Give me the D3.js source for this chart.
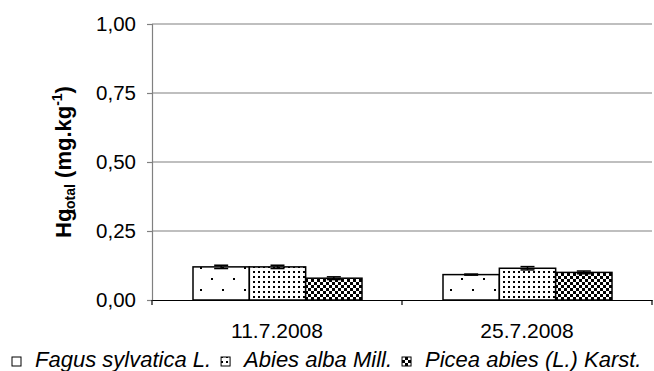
<!DOCTYPE html>
<html>
<head>
<meta charset="utf-8">
<script src="https://cdn.jsdelivr.net/npm/d3@7"></script>
<style>
  body { margin: 0; background: #fff; }
  text { font-family: "Liberation Sans", Arial, sans-serif; }
</style>
</head>
<body>
<div id="chart"></div>
<script>
// data
var dates = ["11.7.2008", "25.7.2008"];
var species = ["Fagus sylvatica L.", "Abies alba Mill.", "Picea abies (L.) Karst."];
var fagus = [0.12, 0.092];
var abies = [0.12, 0.115];
var picea = [0.079, 0.10];
var fagusErr = [0.006, 0.002];
var abiesErr = [0.006, 0.006];
var piceaErr = [0.005, 0.005];
var yTicks = [0, 0.25, 0.5, 0.75, 1];

var series = [fagus, abies, picea];
var errs = [fagusErr, abiesErr, piceaErr];

var width = 654, height = 371;
var plot = { left: 152, right: 652, top: 24, bottom: 300 };

var svg = d3.select("#chart").append("svg")
    .attr("width", width)
    .attr("height", height);

var defs = svg.append("defs");

// sparse dots
var p1 = defs.append("pattern").attr("id", "pat0").attr("patternUnits", "userSpaceOnUse")
    .attr("width", 22).attr("height", 22);
p1.append("rect").attr("width", 22).attr("height", 22).attr("fill", "#fff");
p1.append("rect").attr("x", 4).attr("y", 3).attr("width", 2).attr("height", 2).attr("fill", "#000");
p1.append("rect").attr("x", 15).attr("y", 14).attr("width", 2).attr("height", 2).attr("fill", "#000");

// dense dots
var p2 = defs.append("pattern").attr("id", "pat1").attr("patternUnits", "userSpaceOnUse")
    .attr("width", 5).attr("height", 5);
p2.append("rect").attr("width", 5).attr("height", 5).attr("fill", "#fff");
p2.append("rect").attr("x", 1).attr("y", 1).attr("width", 2).attr("height", 2).attr("fill", "#000");

// checkerboard
var p3 = defs.append("pattern").attr("id", "pat2").attr("patternUnits", "userSpaceOnUse")
    .attr("width", 6).attr("height", 6);
p3.append("rect").attr("width", 6).attr("height", 6).attr("fill", "#fff");
p3.append("rect").attr("width", 3).attr("height", 3).attr("fill", "#000");
p3.append("rect").attr("x", 3).attr("y", 3).attr("width", 3).attr("height", 3).attr("fill", "#000");

var x0 = d3.scaleBand().domain(dates).range([plot.left, plot.right]);
// three bars take ~68% of each category band
var x1 = d3.scaleBand().domain(d3.range(3)).range([x0.bandwidth() * 0.164, x0.bandwidth() * 0.84]);
var y = d3.scaleLinear().domain([0, 1]).range([plot.bottom, plot.top]);

// gridlines
svg.append("g").selectAll("line")
    .data(yTicks.filter(function (d) { return d > 0; }))
    .enter().append("line")
    .attr("x1", plot.left).attr("x2", plot.right)
    .attr("y1", function (d) { return y(d); })
    .attr("y2", function (d) { return y(d); })
    .attr("stroke", "#808080").attr("stroke-width", 1.2);

// y axis
var yAxis = svg.append("g")
    .attr("transform", "translate(" + plot.left + ",0)")
    .call(d3.axisLeft(y).tickValues(yTicks).tickSize(5).tickPadding(11)
        .tickFormat(function (d) { return d3.format(".2f")(d).replace(".", ","); }));
yAxis.select(".domain").attr("stroke", "#808080").attr("stroke-width", 1.2);
yAxis.selectAll(".tick line").attr("stroke", "#808080").attr("stroke-width", 1.2);
yAxis.selectAll("text").attr("font-size", 20.5).attr("fill", "#000")
    .attr("font-family", "Liberation Sans, Arial, sans-serif");

// bars
var groups = svg.append("g").selectAll("g")
    .data(dates)
    .enter().append("g")
    .attr("transform", function (d) { return "translate(" + x0(d) + ",0)"; });

function rows(d, i) {
    return series.map(function (s, k) { return { k: k, v: s[i], e: errs[k][i] }; });
}

groups.selectAll("rect")
    .data(rows)
    .enter().append("rect")
    .attr("x", function (d) { return x1(d.k); })
    .attr("y", function (d) { return y(d.v); })
    .attr("width", x1.bandwidth())
    .attr("height", function (d) { return y(0) - y(d.v); })
    .attr("fill", function (d) { return "url(#pat" + d.k + ")"; })
    .attr("stroke", "#000").attr("stroke-width", 1.5);

// error bars
var eb = groups.selectAll(".err")
    .data(rows)
    .enter().append("g").attr("class", "err");
eb.append("line")
    .attr("x1", function (d) { return x1(d.k) + x1.bandwidth() / 2; })
    .attr("x2", function (d) { return x1(d.k) + x1.bandwidth() / 2; })
    .attr("y1", function (d) { return y(d.v + d.e); })
    .attr("y2", function (d) { return y(d.v - d.e); })
    .attr("stroke", "#000").attr("stroke-width", 1.5);
eb.selectAll(".cap")
    .data(function (d) { return [d.v + d.e, d.v - d.e].map(function (v) { return { k: d.k, v: v }; }); })
    .enter().append("line")
    .attr("x1", function (d) { return x1(d.k) + x1.bandwidth() / 2 - 7; })
    .attr("x2", function (d) { return x1(d.k) + x1.bandwidth() / 2 + 7; })
    .attr("y1", function (d) { return y(d.v); })
    .attr("y2", function (d) { return y(d.v); })
    .attr("stroke", "#000").attr("stroke-width", 1.5);

// x axis
var xAxis = svg.append("g")
    .attr("transform", "translate(0," + plot.bottom + ")")
    .call(d3.axisBottom(x0).tickSize(0).tickPadding(23));
xAxis.select(".domain").attr("stroke", "#000").attr("stroke-width", 1.2);
xAxis.selectAll("text").attr("font-size", 21).attr("fill", "#000")
    .attr("font-family", "Liberation Sans, Arial, sans-serif");
// category boundary ticks
svg.append("g").selectAll("line")
    .data(d3.range(dates.length + 1))
    .enter().append("line")
    .attr("x1", function (i) { return plot.left + i * x0.bandwidth(); })
    .attr("x2", function (i) { return plot.left + i * x0.bandwidth(); })
    .attr("y1", plot.bottom).attr("y2", plot.bottom + 5)
    .attr("stroke", "#000").attr("stroke-width", 1.2);

// y title
var yt = svg.append("text")
    .attr("transform", "translate(71," + ((plot.top + plot.bottom) / 2) + ") rotate(-90)")
    .attr("text-anchor", "middle")
    .attr("font-weight", "bold")
    .attr("font-size", 22);
yt.append("tspan").text("Hg");
yt.append("tspan").attr("font-size", 14).attr("dy", 4).attr("dx", -5).text("total");
yt.append("tspan").attr("dy", -4).text(" (mg.kg");
yt.append("tspan").attr("font-size", 14).attr("dy", -9).text("-1");
yt.append("tspan").attr("dy", 9).text(")");

// legend
var lg = svg.append("g");
var lx = 12, ly = 367;
species.forEach(function (name, k) {
    lg.append("rect")
        .attr("x", lx).attr("y", ly - 10).attr("width", 9).attr("height", 9)
        .attr("fill", "url(#pat" + k + ")").attr("stroke", "#000").attr("stroke-width", 1);
    var t = lg.append("text")
        .attr("x", lx + 23).attr("y", ly)
        .attr("font-size", 22).attr("font-style", "italic")
        .text(name);
    lx += 23 + t.node().getComputedTextLength() + 10;
});
</script>
</body>
</html>
